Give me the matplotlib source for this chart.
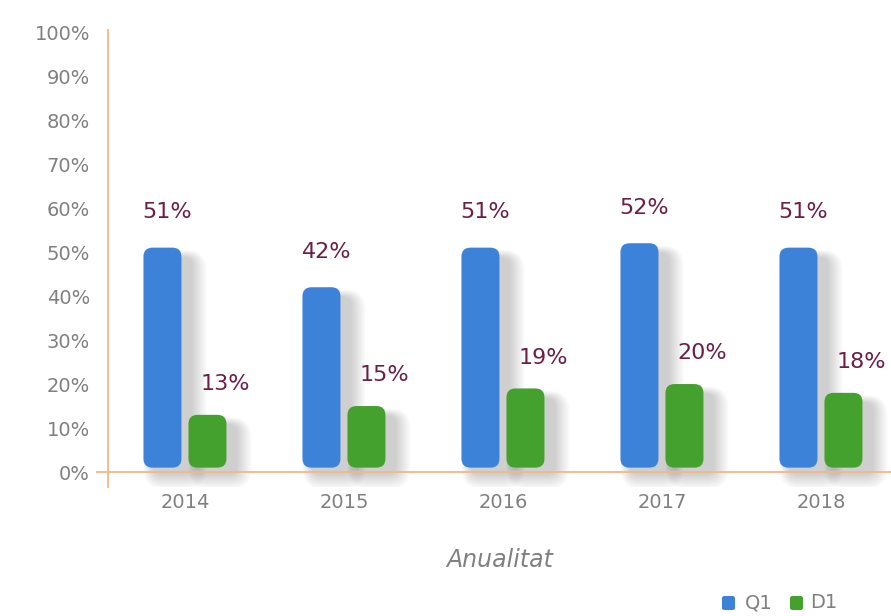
import matplotlib.pyplot as plt
from matplotlib.patches import FancyBboxPatch
import numpy as np

# data
years = ["2014", "2015", "2016", "2017", "2018"]
q1 = [51, 42, 51, 52, 51]
d1 = [13, 15, 19, 20, 18]
yticks = [0, 10, 20, 30, 40, 50, 60, 70, 80, 90, 100]

blue = "#3B82D8"
green = "#45A12E"
lab_col = "#6B1F47"
grey = "#808080"
orange = "#F2B985"

plt.rcParams['font.family'] = ['DejaVu Sans']

fig = plt.figure(figsize=(8.91, 6.16), dpi=100)
ax = fig.add_axes([108/891, 129/616, 783/891, 457/616])

px_x = 159.0   # pixels per x unit
px_y = 4.4     # pixels per y unit
ax.set_xlim(-0.484, -0.484 + 783/px_x)
ax.set_ylim(-3.4, -3.4 + 457/px_y)

x = np.arange(len(years))
w = 38/px_x
off = 22.5/px_x
aspect = px_x/px_y
base = 1.0

def rbar(xc, h, color):
    x0 = xc - w/2
    # soft shadow to the right/below
    n = 16
    for i in range(n):
        g = (i+1)*1.6  # px
        sh = FancyBboxPatch((x0 + 10/px_x - g*0.4/px_x, base - 6/px_y - g*0.6/px_y),
                            w + g/px_x, (h - base) - 4/px_y + g*0.9/px_y,
                            boxstyle="round,pad=0,rounding_size=%f" % ((8+g*0.5)/px_x),
                            mutation_aspect=aspect, fc="#000000", ec="none",
                            alpha=0.013, zorder=1)
        ax.add_patch(sh)
    p = FancyBboxPatch((x0, base), w, h - base,
                       boxstyle="round,pad=0,rounding_size=%f" % (9/px_x),
                       mutation_aspect=aspect, fc=color, ec="none", zorder=3)
    ax.add_patch(p)

for i in range(len(years)):
    rbar(x[i] - off, q1[i], blue)
    rbar(x[i] + off, d1[i], green)
    ax.text(x[i] - off + 5/px_x, q1[i] + 8, "%d%%" % q1[i], ha="center", va="center",
            fontsize=16, color=lab_col, zorder=4)
    ax.text(x[i] + off + 18/px_x, d1[i] + 7, "%d%%" % d1[i], ha="center", va="center",
            fontsize=16, color=lab_col, zorder=4)

# axes styling
for s in ["top", "right", "bottom"]:
    ax.spines[s].set_visible(False)
ax.spines["left"].set_color(orange)
ax.spines["left"].set_linewidth(1.3)
ax.axhline(0, xmin=-11/783, xmax=1, color=orange, lw=1.3, clip_on=False, zorder=2)

ax.set_yticks(yticks)
ax.set_yticklabels(["%d%%" % v for v in yticks])
ax.set_xticks(x)
ax.set_xticklabels(years)
ax.tick_params(axis="y", length=0, pad=13, labelsize=14, labelcolor=grey)
ax.tick_params(axis="x", length=0, pad=4, labelsize=14, labelcolor=grey)

ax.set_xlabel("Anualitat", fontsize=17, color=grey, style="italic", labelpad=26)

# legend
ly = 1 - 603/616
fig.patches.append(FancyBboxPatch((722/891, ly - 7/616), 13/891, 14/616,
                                  boxstyle="round,pad=0,rounding_size=0.003",
                                  fc=blue, ec="none", transform=fig.transFigure))
fig.text(745/891, ly, "Q1", color=grey, fontsize=14, ha="left", va="center")
fig.patches.append(FancyBboxPatch((790/891, ly - 7/616), 13/891, 14/616,
                                  boxstyle="round,pad=0,rounding_size=0.003",
                                  fc=green, ec="none", transform=fig.transFigure))
fig.text(810/891, ly, "D1", color=grey, fontsize=14, ha="left", va="center")

fig.savefig("out.png", dpi=100)
